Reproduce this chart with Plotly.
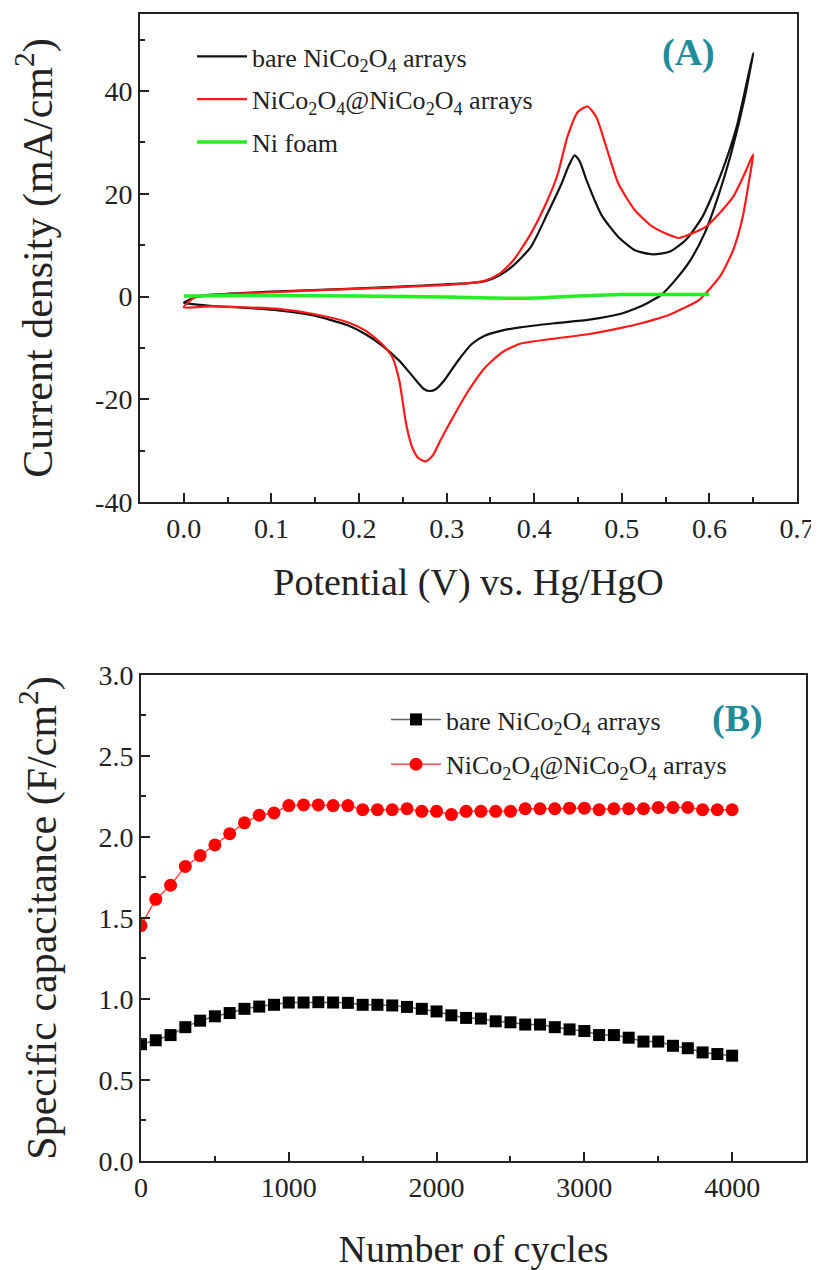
import plotly.graph_objects as go

# ---------------- Panel A data (CV curves) ----------------
bare_anodic_v = [0.000, 0.014, 0.049, 0.108, 0.187, 0.266, 0.325, 0.344, 0.360, 0.376, 0.396, 0.415,
                 0.431, 0.439, 0.446, 0.452, 0.460, 0.477, 0.496, 0.515, 0.535, 0.554, 0.573, 0.592,
                 0.612, 0.631, 0.650]
bare_anodic_i = [-1.2, -0.1, 0.5, 1.0, 1.5, 2.1, 2.6, 3.0, 4.1, 6.0, 9.6, 16.1,
                 21.9, 25.3, 27.5, 26.3, 22.5, 15.8, 11.6, 9.0, 8.2, 8.7, 11.0, 15.5,
                 23.3, 33.0, 47.4]
bare_cathodic_v = [0.640, 0.625, 0.610, 0.595, 0.578, 0.560, 0.545, 0.530, 0.515, 0.500, 0.463, 0.423,
                   0.384, 0.364, 0.344, 0.329, 0.313, 0.297, 0.288, 0.281, 0.274, 0.262, 0.246, 0.226,
                   0.207, 0.187, 0.148, 0.108, 0.069, 0.030, 0.006, 0.000]
bare_cathodic_i = [38.5, 28.0, 19.5, 12.5, 7.0, 3.0, 0.3, -1.2, -2.4, -3.3, -4.5, -5.2,
                   -6.0, -6.6, -7.6, -9.2, -12.5, -16.4, -18.0, -18.4, -18.0, -15.7, -12.5, -9.5,
                   -7.3, -5.6, -3.7, -2.7, -2.2, -1.8, -1.4, -1.2]

core_anodic_v = [0.000, 0.014, 0.069, 0.148, 0.226, 0.305, 0.344, 0.360, 0.376, 0.396, 0.415, 0.427,
                 0.438, 0.450, 0.461, 0.471, 0.481, 0.496, 0.515, 0.535, 0.554, 0.565, 0.596, 0.627,
                 0.642, 0.650]
core_anodic_i = [-2.1, 0.0, 0.6, 1.2, 1.7, 2.3, 3.1, 4.4, 7.0, 12.2, 18.7, 23.9,
                 31.2, 36.0, 37.0, 34.9, 29.8, 22.0, 16.8, 13.6, 12.0, 11.4, 13.6, 19.4,
                 24.6, 27.7]
core_cathodic_v = [0.646, 0.638, 0.627, 0.612, 0.588, 0.570, 0.554, 0.541, 0.520, 0.502, 0.463, 0.423,
                   0.384, 0.364, 0.344, 0.325, 0.305, 0.293, 0.284, 0.276, 0.268, 0.261, 0.254, 0.246,
                   0.238, 0.226, 0.207, 0.187, 0.148, 0.108, 0.069, 0.030, 0.000]
core_cathodic_i = [23.3, 15.5, 9.0, 3.9, -0.7, -2.3, -3.6, -4.3, -5.3, -6.0, -7.3, -8.2,
                   -9.2, -10.8, -13.8, -18.3, -24.2, -28.0, -31.0, -32.1, -31.5, -29.5, -25.0, -16.4,
                   -11.8, -9.2, -6.6, -5.0, -3.4, -2.4, -2.1, -1.9, -2.1]

foam_v = [0.00, 0.10, 0.20, 0.30, 0.35, 0.40, 0.45, 0.50, 0.55, 0.60]
foam_i = [0.1, 0.2, 0.1, -0.1, -0.3, -0.3, 0.1, 0.4, 0.4, 0.4]

a_xtick_vals = [0.0, 0.1, 0.2, 0.3, 0.4, 0.5, 0.6, 0.7]
a_xtick_text = ["0.0", "0.1", "0.2", "0.3", "0.4", "0.5", "0.6", "0.7"]
a_ytick_vals = [-40, -20, 0, 20, 40]
a_ytick_text = ["-40", "-20", "0", "20", "40"]

# ---------------- Panel B data (cycling) ----------------
cycles = [0, 100, 200, 300, 400, 500, 600, 700, 800, 900, 1000, 1100, 1200, 1300, 1400, 1500,
          1600, 1700, 1800, 1900, 2000, 2100, 2200, 2300, 2400, 2500, 2600, 2700, 2800, 2900,
          3000, 3100, 3200, 3300, 3400, 3500, 3600, 3700, 3800, 3900, 4000]
bare_cap = [0.721, 0.745, 0.777, 0.826, 0.866, 0.893, 0.913, 0.939, 0.953, 0.964, 0.978, 0.978,
            0.980, 0.978, 0.976, 0.964, 0.964, 0.960, 0.951, 0.939, 0.923, 0.899, 0.883, 0.879,
            0.862, 0.856, 0.842, 0.842, 0.826, 0.812, 0.802, 0.777, 0.777, 0.761, 0.737, 0.737,
            0.711, 0.696, 0.670, 0.660, 0.650]
core_cap = [1.453, 1.615, 1.702, 1.818, 1.885, 1.951, 2.020, 2.087, 2.134, 2.148, 2.194, 2.198,
            2.198, 2.194, 2.194, 2.168, 2.168, 2.168, 2.174, 2.158, 2.158, 2.138, 2.158, 2.158,
            2.158, 2.158, 2.174, 2.174, 2.174, 2.178, 2.178, 2.168, 2.174, 2.174, 2.174, 2.182,
            2.182, 2.182, 2.168, 2.168, 2.168]
b_ytick_vals = [0.0, 0.5, 1.0, 1.5, 2.0, 2.5, 3.0]
b_xtick_vals = [0, 1000, 2000, 3000, 4000]

name_bare = "bare NiCo<sub>2</sub>O<sub>4</sub> arrays"
name_core = "NiCo<sub>2</sub>O<sub>4</sub>@NiCo<sub>2</sub>O<sub>4</sub> arrays"
name_foam = "Ni foam"

FONT = "Liberation Serif"
TXT = "#222222"

fig = go.Figure()

fig.add_trace(go.Scatter(x=bare_anodic_v + bare_cathodic_v, y=bare_anodic_i + bare_cathodic_i,
                         mode="lines", name=name_bare, line=dict(color="#111111", width=2.2, shape="spline", smoothing=0.6),
                         xaxis="x", yaxis="y", legend="legend", legendgroup="a1"))
fig.add_trace(go.Scatter(x=core_anodic_v + core_cathodic_v, y=core_anodic_i + core_cathodic_i,
                         mode="lines", name=name_core, line=dict(color="#ff1a1a", width=2.2, shape="spline", smoothing=0.6),
                         xaxis="x", yaxis="y", legend="legend", legendgroup="a2"))
fig.add_trace(go.Scatter(x=foam_v, y=foam_i, mode="lines", name=name_foam,
                         line=dict(color="#22ee22", width=3.5, shape="spline", smoothing=0.6),
                         xaxis="x", yaxis="y", legend="legend", legendgroup="a3"))

fig.add_trace(go.Scatter(x=cycles, y=bare_cap, mode="lines+markers", name=name_bare,
                         line=dict(color="#666666", width=1.5),
                         marker=dict(symbol="square", size=12, color="#000000"),
                         xaxis="x2", yaxis="y2", legend="legend2", legendgroup="b1"))
fig.add_trace(go.Scatter(x=cycles, y=core_cap, mode="lines+markers", name=name_core,
                         line=dict(color="#ff5050", width=1.5),
                         marker=dict(symbol="circle", size=13, color="#ff0000"),
                         xaxis="x2", yaxis="y2", legend="legend2", legendgroup="b2"))

axis_common = dict(showline=True, linecolor="#222222", linewidth=2, mirror=True,
                   ticks="inside", ticklen=9, tickwidth=2, tickcolor="#222222",
                   showgrid=False, zeroline=False, automargin=False,
                   tickfont=dict(family=FONT, size=28, color=TXT))
minor_common = dict(ticks="inside", ticklen=5, tickwidth=2, tickcolor="#222222")

# The page body has an 8px default margin, so the figure is 8px smaller than the window.
fig.update_layout(
    width=811, height=1262,
    margin=dict(l=0, r=0, t=0, b=0),
    paper_bgcolor="white", plot_bgcolor="white",
    font=dict(family=FONT, color=TXT),
    xaxis=dict(domain=[0.1628, 0.9729], range=[-0.05, 0.7], anchor="y",
               tickvals=a_xtick_vals, ticktext=a_xtick_text,
               minor=dict(dtick=0.05, tick0=0, **minor_common),
               title=dict(text="Potential (V) vs. Hg/HgO", font=dict(family=FONT, size=38, color=TXT), standoff=26),
               **axis_common),
    yaxis=dict(domain=[0.6086, 0.9952], range=[-40, 55], anchor="x",
               tickvals=a_ytick_vals, ticktext=a_ytick_text,
               minor=dict(dtick=10, tick0=0, **minor_common),
               title=dict(text="Current density (mA/cm<sup>2</sup>)", font=dict(family=FONT, size=42, color=TXT), standoff=33),
               **axis_common),
    xaxis2=dict(domain=[0.1640, 0.9840], range=[0, 4500], anchor="y2",
                tickvals=b_xtick_vals,
                minor=dict(dtick=500, tick0=0, **minor_common),
                title=dict(text="Number of cycles", font=dict(family=FONT, size=38, color=TXT), standoff=36),
                **axis_common),
    yaxis2=dict(domain=[0.0864, 0.4715], range=[0, 3], anchor="x2",
                tickvals=b_ytick_vals, tickformat=".1f",
                minor=dict(dtick=0.25, tick0=0, **minor_common),
                title=dict(text="Specific capacitance (F/cm<sup>2</sup>)", font=dict(family=FONT, size=42, color=TXT), standoff=29),
                **axis_common),
    legend=dict(x=0.2269, y=0.9802, xanchor="left", yanchor="top", bgcolor="rgba(0,0,0,0)",
                font=dict(family=FONT, size=26, color=TXT), tracegroupgap=6, itemwidth=50),
    legend2=dict(x=0.4661, y=0.4548, xanchor="left", yanchor="top", bgcolor="rgba(0,0,0,0)",
                 font=dict(family=FONT, size=26, color=TXT), tracegroupgap=8, itemwidth=50),
    showlegend=True,
)

fig.add_annotation(text="<b>(A)</b>", xref="paper", yref="paper", x=0.8388, y=0.9651,
                   xanchor="center", yanchor="middle",
                   showarrow=False, font=dict(family=FONT, size=38, color="#1f8c99"))
fig.add_annotation(text="<b>(B)</b>", xref="paper", yref="paper", x=0.9001, y=0.4374,
                   xanchor="center", yanchor="middle",
                   showarrow=False, font=dict(family=FONT, size=38, color="#1f8c99"))

fig.write_html("out.html")
